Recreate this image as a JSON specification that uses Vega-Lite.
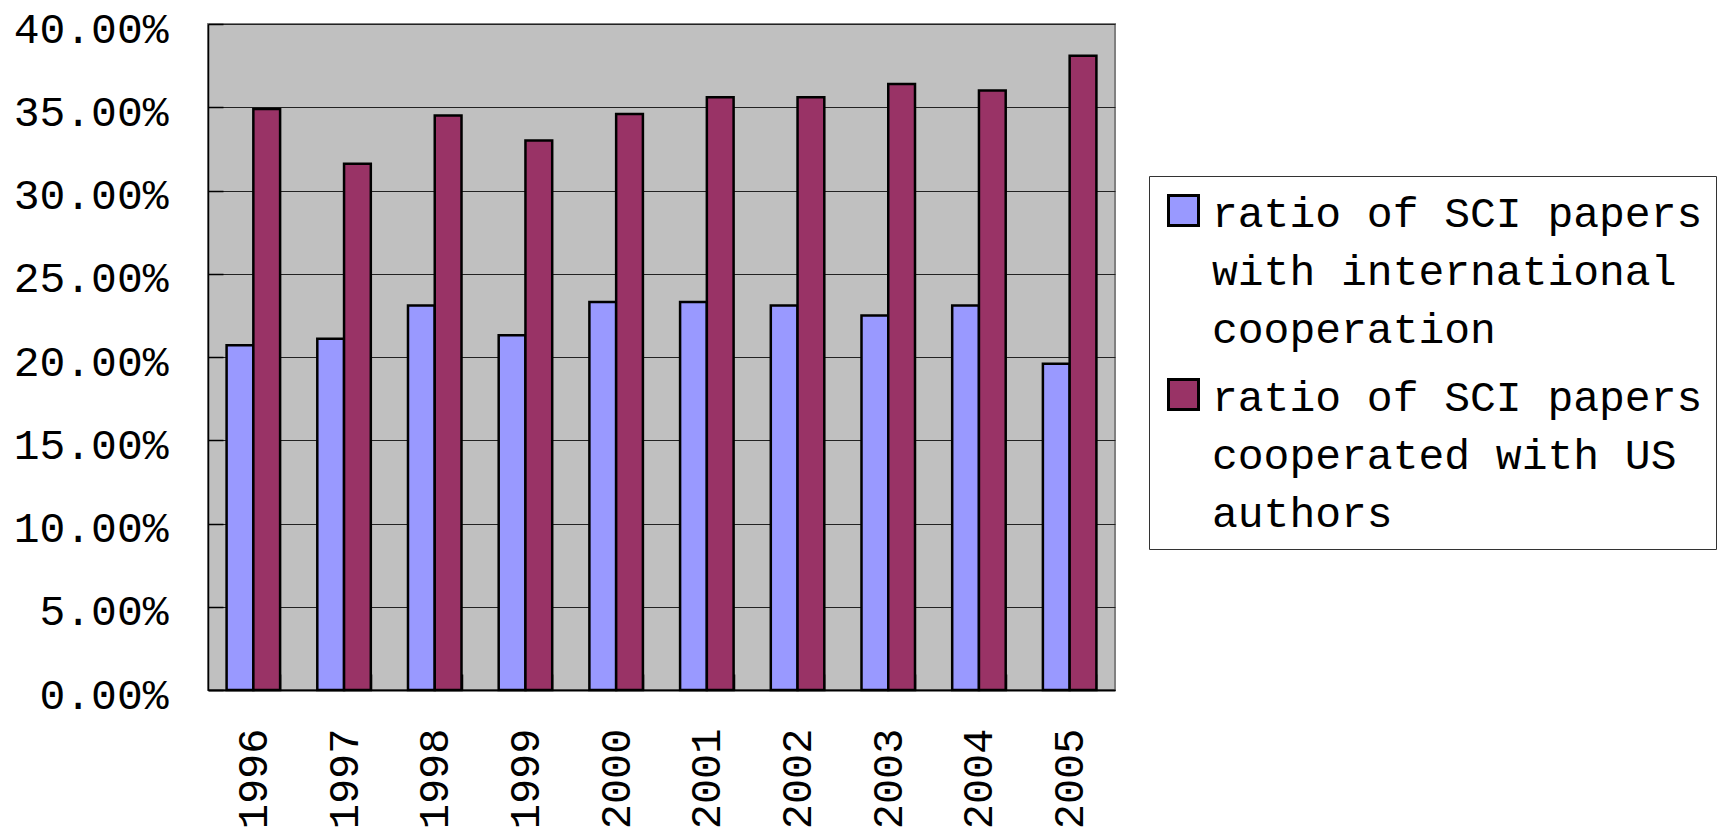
{
  "$schema": "https://vega.github.io/schema/vega-lite/v6.json",
  "width": 907,
  "height": 666,
  "autosize": {"type": "none"},
  "padding": {"left": 208, "top": 24, "right": 609, "bottom": 142},
  "background": "white",
  "config": {
    "font": "Liberation Mono",
    "view": {"fill": "#C0C0C0", "stroke": "#808080", "strokeWidth": 2},
    "style": {"guide-label": {"lineHeight": 58, "dy": -18}}
  },
  "data": {
    "values": [
      {"year": "1996", "series": "ratio of SCI papers with international cooperation", "ratio": 0.207},
      {"year": "1997", "series": "ratio of SCI papers with international cooperation", "ratio": 0.211},
      {"year": "1998", "series": "ratio of SCI papers with international cooperation", "ratio": 0.231},
      {"year": "1999", "series": "ratio of SCI papers with international cooperation", "ratio": 0.213},
      {"year": "2000", "series": "ratio of SCI papers with international cooperation", "ratio": 0.233},
      {"year": "2001", "series": "ratio of SCI papers with international cooperation", "ratio": 0.233},
      {"year": "2002", "series": "ratio of SCI papers with international cooperation", "ratio": 0.231},
      {"year": "2003", "series": "ratio of SCI papers with international cooperation", "ratio": 0.225},
      {"year": "2004", "series": "ratio of SCI papers with international cooperation", "ratio": 0.231},
      {"year": "2005", "series": "ratio of SCI papers with international cooperation", "ratio": 0.196},
      {"year": "1996", "series": "ratio of SCI papers cooperated with US authors", "ratio": 0.349},
      {"year": "1997", "series": "ratio of SCI papers cooperated with US authors", "ratio": 0.316},
      {"year": "1998", "series": "ratio of SCI papers cooperated with US authors", "ratio": 0.345},
      {"year": "1999", "series": "ratio of SCI papers cooperated with US authors", "ratio": 0.330},
      {"year": "2000", "series": "ratio of SCI papers cooperated with US authors", "ratio": 0.346},
      {"year": "2001", "series": "ratio of SCI papers cooperated with US authors", "ratio": 0.356},
      {"year": "2002", "series": "ratio of SCI papers cooperated with US authors", "ratio": 0.356},
      {"year": "2003", "series": "ratio of SCI papers cooperated with US authors", "ratio": 0.364},
      {"year": "2004", "series": "ratio of SCI papers cooperated with US authors", "ratio": 0.360},
      {"year": "2005", "series": "ratio of SCI papers cooperated with US authors", "ratio": 0.381}
    ]
  },
  "mark": {"type": "bar", "stroke": "black", "strokeWidth": 2.5},
  "encoding": {
    "x": {
      "field": "year",
      "type": "nominal",
      "scale": {"paddingInner": 0.41, "paddingOuter": 0.205},
      "axis": {
        "title": null,
        "labelAngle": 270,
        "labelFontSize": 42,
        "labelColor": "black",
        "labelPadding": 54,
        "labelOffset": 18,
        "ticks": true,
        "tickBand": "extent",
        "tickSize": -16,
        "tickColor": "black",
        "tickWidth": 1.5,
        "domainColor": "black",
        "domainWidth": 2,
        "grid": false
      }
    },
    "xOffset": {
      "field": "series",
      "type": "nominal",
      "scale": {"domain": ["ratio of SCI papers with international cooperation", "ratio of SCI papers cooperated with US authors"], "paddingInner": 0, "paddingOuter": 0}
    },
    "y": {
      "field": "ratio",
      "type": "quantitative",
      "scale": {"domain": [0, 0.4], "nice": false},
      "axis": {
        "title": null,
        "values": [0, 0.05, 0.1, 0.15, 0.2, 0.25, 0.3, 0.35, 0.4],
        "format": ".2%",
        "labelFontSize": 43,
        "labelColor": "black",
        "labelPadding": 55,
        "labelOffset": 23,
        "ticks": true,
        "tickSize": -15,
        "tickColor": "black",
        "tickWidth": 1.5,
        "domainColor": "black",
        "domainWidth": 1.5,
        "grid": true,
        "gridColor": "#222222",
        "gridWidth": 1,
        "gridOpacity": 1
      }
    },
    "color": {
      "field": "series",
      "type": "nominal",
      "scale": {
        "domain": ["ratio of SCI papers with international cooperation", "ratio of SCI papers cooperated with US authors"],
        "range": ["#9999FF", "#993366"]
      },
      "legend": {
        "title": null,
        "orient": "none",
        "legendX": 941,
        "legendY": 152,
        "direction": "vertical",
        "fillColor": "white",
        "strokeColor": "#333333",
        "padding": 13,
        "symbolType": "square",
        "symbolSize": 900,
        "symbolStrokeColor": "black",
        "symbolStrokeWidth": 3,
        "labelFontSize": 43,
        "labelColor": "black",
        "labelOffset": 7,
        "labelLimit": 700,
        "labelBaseline": "top",
        "rowPadding": 21,
        "labelExpr": "datum.label == 'ratio of SCI papers with international cooperation' ? ['ratio of SCI papers', 'with international', 'cooperation'] : ['ratio of SCI papers', 'cooperated with US', 'authors']"
      }
    }
  }
}
